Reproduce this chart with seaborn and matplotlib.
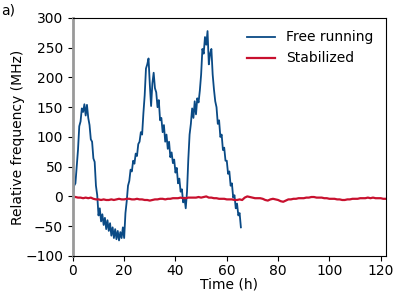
import numpy as np
import pandas as pd
import matplotlib
matplotlib.use("Agg")
import matplotlib.pyplot as plt
import seaborn as sns

free_t = np.arange(0, 66, 0.5)
free_v = [0, 18, 22, 50, 78, 118, 126, 148, 142, 155, 136, 154, 132, 120, 96, 92, 64, 58, 18, 2,
          -32, -20, -42, -30, -48, -36, -55, -40, -58, -45, -66, -52, -70, -55, -72, -58, -74, -60, -70, -52,
          -70, -28, -8, 18, 26, 45, 42, 60, 55, 72, 68, 88, 92, 108, 104, 140, 170, 215, 222,
          232, 188, 152, 190, 208, 182, 175, 150, 162, 128, 132, 108, 120, 92, 104, 80, 92, 66, 74, 56,
          62, 40, 48, 22, 30, 8, 12, -10, -2, -20, 8, 62, 104, 122, 148, 132, 160, 138, 165, 158,
          178, 205, 248, 240, 268, 255, 278,
          222, 240, 248, 205, 180, 160, 150, 122, 128, 100, 104, 78, 82, 60, 60, 38, 42, 18, 22, -2,
          2, -20, -12, -32, -28, -52]

# stabilized laser, sampled every 1 h
stab_t = np.arange(0, 123, 1)
stab_v = [0, -1, -2, -2, -3, -2, -3, -2, -4, -5, -5, -6, -5, -6, -6, -5, -6, -5, -4, -5,
          -5, -4, -4, -5, -5, -4, -5, -5, -6, -6, -7, -6, -5, -5, -4, -4, -5, -4, -4, -3,
          -3, -3, -2, -3, -3, -2, -2, -2, -2, -1, -2, -1, 0, -2, -2, -3, -3, -4, -4, -4,
          -5, -5, -5, -6, -6, -5, -6, -2, 0, -1, -2, -3, -3, -3, -4, -6, -7, -5, -4, -5,
          -6, -8, -9, -7, -5, -5, -4, -4, -3, -3, -3, -2, -2, -1, -1, -2, -2, -2, -3, -3,
          -4, -4, -4, -5, -5, -6, -6, -5, -5, -4, -4, -4, -3, -3, -3, -2, -3, -2, -3, -3,
          -3, -4, -4]

free_df = pd.DataFrame({"t": free_t, "v": free_v})
stab_df = pd.DataFrame({"t": stab_t, "v": stab_v})

plt.rcParams["font.family"] = ["DejaVu Sans"]
plt.rcParams["font.size"] = 10

fig = plt.figure(figsize=(4.07, 3.05), dpi=100)
ax = fig.add_axes([0.179, 0.161, 0.769, 0.780])

sns.lineplot(data=free_df, x="t", y="v", ax=ax, color="#0a4a85", lw=1.3, label="Free running")
sns.lineplot(data=stab_df, x="t", y="v", ax=ax, color="#c8102e", lw=1.6, label="Stabilized")

ax.set_xlim(0, 122)
ax.set_ylim(-100, 300)
ax.set_xticks(range(0, 121, 20))
ax.set_yticks(range(-100, 301, 50))
ax.tick_params(axis="x", pad=2)
ax.set_xlabel("Time (h)", labelpad=0)
ax.set_ylabel("Relative frequency (MHz)", labelpad=0)
ax.spines["left"].set_color("#999999")
ax.spines["left"].set_linewidth(2)
ax.legend(loc="upper right", frameon=False, fontsize=10)

fig.text(0.002, 0.965, "a)", fontsize=10, va="center")

fig.savefig("out.png", dpi=100)
